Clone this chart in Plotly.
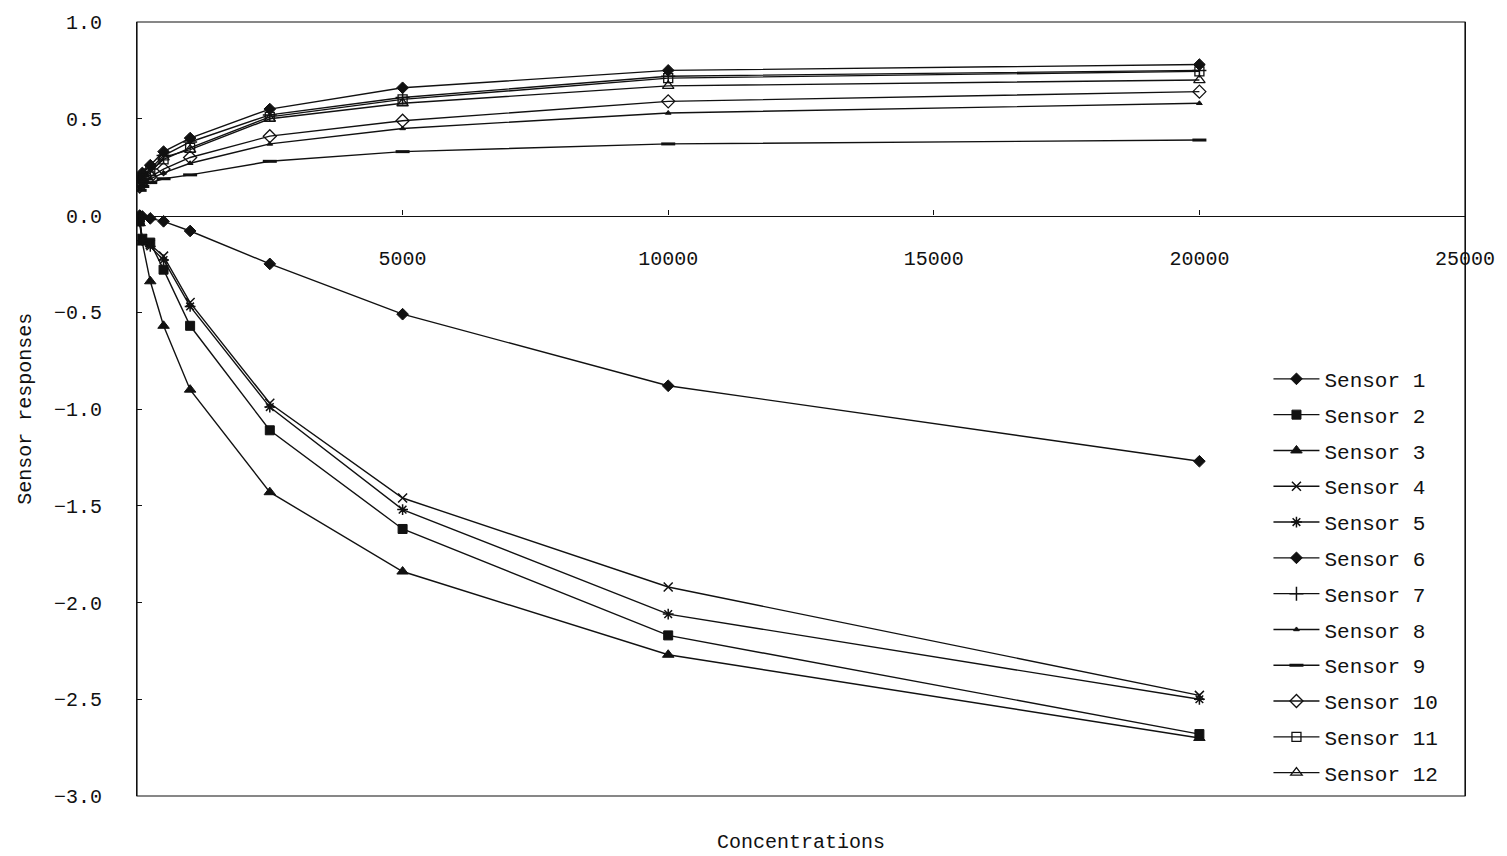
import plotly.graph_objects as go

# Gas concentrations at which each sensor was read
concentrations = [50, 100, 250, 500, 1000, 2500, 5000, 10000, 20000]

sensor_1 = [0.0, -0.005, -0.015, -0.03, -0.08, -0.25, -0.51, -0.88, -1.27]
sensor_2 = [-0.03, -0.12, -0.14, -0.28, -0.57, -1.11, -1.62, -2.17, -2.68]
sensor_3 = [-0.04, -0.14, -0.34, -0.57, -0.90, -1.43, -1.84, -2.27, -2.70]
sensor_4 = [-0.02, -0.12, -0.15, -0.21, -0.45, -0.97, -1.46, -1.92, -2.48]
sensor_5 = [-0.03, -0.13, -0.16, -0.23, -0.47, -0.99, -1.52, -2.06, -2.50]
sensor_6 = [0.19, 0.22, 0.26, 0.33, 0.40, 0.55, 0.66, 0.75, 0.78]
sensor_7 = [0.18, 0.20, 0.24, 0.31, 0.38, 0.52, 0.61, 0.72, 0.75]
sensor_8 = [0.14, 0.16, 0.19, 0.22, 0.27, 0.37, 0.45, 0.53, 0.58]
sensor_9 = [0.13, 0.15, 0.17, 0.19, 0.21, 0.28, 0.33, 0.37, 0.39]
sensor_10 = [0.15, 0.17, 0.20, 0.24, 0.30, 0.41, 0.49, 0.59, 0.64]
sensor_11 = [0.17, 0.19, 0.23, 0.29, 0.35, 0.51, 0.60, 0.71, 0.745]
sensor_12 = [0.17, 0.19, 0.22, 0.30, 0.34, 0.50, 0.58, 0.67, 0.70]

sensor_names = [f"Sensor {i}" for i in range(1, 13)]
series = [sensor_1, sensor_2, sensor_3, sensor_4, sensor_5, sensor_6,
          sensor_7, sensor_8, sensor_9, sensor_10, sensor_11, sensor_12]

# marker symbol, size, outline width for each sensor
marker_styles = [
    ("diamond", 9, 1),
    ("square", 9, 1),
    ("triangle-up", 10, 1),
    ("x-thin-open", 9, 1.5),
    ("asterisk-open", 9, 1.5),
    ("diamond", 9, 1),
    ("cross-thin-open", 10, 1.5),
    ("triangle-up", 5, 1),
    ("line-ew-open", 10, 3),
    ("diamond-open", 10, 1.3),
    ("square-open", 9, 1.3),
    ("triangle-up-open", 10, 1.3),
]

FONT = "Liberation Mono"
INK = "#111111"

fig = go.Figure()
for name, ys, (sym, size, lw) in zip(sensor_names, series, marker_styles):
    fig.add_trace(go.Scatter(
        x=concentrations, y=ys, name=name, legendgroup=name,
        mode="lines+markers",
        line=dict(color=INK, width=1.4),
        marker=dict(symbol=sym, size=size, color=INK,
                    line=dict(color=INK, width=lw)),
    ))

fig.update_layout(
    width=1507, height=856,
    margin=dict(l=137, r=42, t=22, b=60),
    paper_bgcolor="white", plot_bgcolor="white",
    font=dict(family=FONT, size=20, color=INK),
    showlegend=True,
    legend=dict(
        x=0.852, y=0.565, xanchor="left", yanchor="top",
        bgcolor="rgba(0,0,0,0)", borderwidth=0,
        font=dict(family=FONT, size=21, color=INK),
        tracegroupgap=5.5, itemwidth=46,
    ),
    xaxis=dict(
        range=[0, 25000], tickvals=[5000, 10000, 15000, 20000, 25000],
        tickformat="d",
        ticks="inside", ticklen=5, tickcolor=INK,
        showgrid=False, zeroline=False,
        showline=True, linecolor=INK, linewidth=1.2,
        anchor="free", position=0.75,
        ticklabelstandoff=24,
        tickfont=dict(family=FONT, size=20, color=INK),
    ),
    yaxis=dict(
        range=[-3, 1], dtick=0.5, tickformat=".1f",
        ticks="inside", ticklen=5, tickcolor=INK,
        showgrid=False, zeroline=False,
        showline=True, linecolor=INK, linewidth=1.2, mirror=True,
        ticklabelstandoff=30,
        tickfont=dict(family=FONT, size=20, color=INK),
    ),
    shapes=[dict(type="rect", xref="paper", yref="paper",
                 x0=0, x1=1, y0=0, y1=1,
                 line=dict(color=INK, width=1.2), layer="above")],
    annotations=[
        dict(text="Concentrations", xref="paper", yref="paper",
             x=0.5, y=-0.06, xanchor="center", yanchor="middle",
             showarrow=False, font=dict(family=FONT, size=20, color=INK)),
        dict(text="Sensor responses", xref="paper", yref="paper",
             x=-0.0845, y=0.5, xanchor="center", yanchor="middle",
             textangle=-90, showarrow=False,
             font=dict(family=FONT, size=20, color=INK)),
    ],
)

fig.write_html("out.html")
